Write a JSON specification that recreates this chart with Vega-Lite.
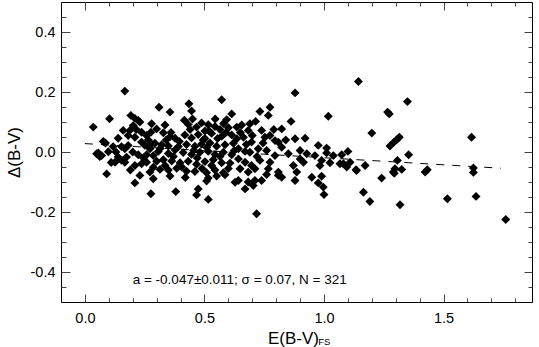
{
  "$schema": "https://vega.github.io/schema/vega-lite/v6.json",
  "width": 471,
  "height": 300,
  "autosize": "none",
  "padding": {"left": 61, "top": 2, "right": 7, "bottom": 45},
  "config": {
    "view": {"stroke": "black", "strokeWidth": 1},
    "font": "Liberation Sans",
    "axis": {
      "grid": false,
      "domain": false,
      "tickColor": "#444444",
      "tickWidth": 1,
      "labelFont": "Liberation Sans",
      "labelFontSize": 14.5,
      "labelColor": "black",
      "titleFont": "Liberation Sans",
      "titleFontSize": 17,
      "titleFontWeight": "normal",
      "titleColor": "black",
      "labelOverlap": false,
      "labelFlush": false
    }
  },
  "resolve": {"axis": {"x": "independent", "y": "independent"}},
  "layer": [
    {
      "data": {"values": [
        {"x":0.167,"y":0.203},{"x":0.103,"y":0.111},{"x":0.035,"y":0.083},{"x":0.192,"y":0.122},{"x":0.209,"y":0.112},{"x":0.223,"y":0.105},{"x":0.160,"y":0.072},{"x":0.181,"y":0.055},{"x":0.188,"y":0.072},{"x":0.139,"y":0.046},{"x":0.202,"y":0.088},{"x":0.209,"y":0.049},{"x":0.237,"y":0.066},{"x":0.258,"y":0.055},{"x":0.279,"y":0.094},{"x":0.276,"y":0.066},{"x":0.077,"y":0.035},{"x":0.086,"y":0.030},{"x":0.118,"y":0.018},{"x":0.153,"y":0.018},{"x":0.167,"y":0.011},{"x":0.181,"y":0.022},{"x":0.237,"y":0.033},{"x":0.251,"y":0.022},{"x":0.272,"y":0.011},{"x":0.279,"y":0.027},{"x":0.056,"y":-0.003},{"x":0.070,"y":-0.012},{"x":0.098,"y":0.001},{"x":0.139,"y":-0.017},{"x":0.174,"y":-0.017},{"x":0.223,"y":-0.009},{"x":0.258,"y":-0.009},{"x":0.286,"y":-0.012},{"x":0.126,"y":-0.034},{"x":0.167,"y":-0.034},{"x":0.153,"y":-0.028},{"x":0.209,"y":-0.045},{"x":0.237,"y":-0.039},{"x":0.258,"y":-0.034},{"x":0.286,"y":-0.051},{"x":0.091,"y":-0.073},{"x":0.230,"y":-0.078},{"x":0.272,"y":-0.067},{"x":0.209,"y":-0.103},{"x":0.276,"y":-0.139},{"x":0.286,"y":-0.089},{"x":0.049,"y":-0.006},{"x":0.062,"y":-0.015},
        {"x":0.310,"y":0.149},{"x":0.356,"y":0.133},{"x":0.435,"y":0.161},{"x":0.446,"y":0.137},{"x":0.572,"y":0.174},{"x":0.614,"y":0.127},{"x":0.593,"y":0.108},{"x":0.416,"y":0.106},{"x":0.432,"y":0.092},{"x":0.467,"y":0.083},{"x":0.488,"y":0.097},{"x":0.516,"y":0.091},{"x":0.502,"y":0.070},{"x":0.544,"y":0.085},{"x":0.565,"y":0.075},{"x":0.600,"y":0.081},{"x":0.300,"y":0.077},{"x":0.335,"y":0.090},{"x":0.328,"y":0.064},{"x":0.356,"y":0.051},{"x":0.377,"y":0.046},{"x":0.418,"y":0.057},{"x":0.446,"y":0.047},{"x":0.474,"y":0.058},{"x":0.502,"y":0.045},{"x":0.530,"y":0.062},{"x":0.572,"y":0.052},{"x":0.614,"y":0.057},{"x":0.293,"y":0.029},{"x":0.321,"y":0.024},{"x":0.349,"y":0.020},{"x":0.391,"y":0.018},{"x":0.425,"y":0.025},{"x":0.460,"y":0.019},{"x":0.488,"y":0.026},{"x":0.523,"y":0.030},{"x":0.551,"y":0.019},{"x":0.586,"y":0.024},{"x":0.621,"y":0.029},{"x":0.307,"y":0.002},{"x":0.349,"y":-0.005},{"x":0.377,"y":0.007},{"x":0.411,"y":-0.002},{"x":0.446,"y":-0.008},{"x":0.481,"y":-0.001},{"x":0.516,"y":0.002},{"x":0.544,"y":-0.008},{"x":0.579,"y":-0.001},{"x":0.614,"y":-0.009},{"x":0.300,"y":-0.031},{"x":0.328,"y":-0.026},{"x":0.363,"y":-0.030},{"x":0.398,"y":-0.036},{"x":0.432,"y":-0.031},{"x":0.467,"y":-0.041},{"x":0.502,"y":-0.032},{"x":0.537,"y":-0.026},{"x":0.572,"y":-0.036},{"x":0.607,"y":-0.037},{"x":0.314,"y":-0.058},{"x":0.349,"y":-0.060},{"x":0.384,"y":-0.054},{"x":0.425,"y":-0.064},{"x":0.460,"y":-0.065},{"x":0.509,"y":-0.069},{"x":0.544,"y":-0.060},{"x":0.579,"y":-0.069},{"x":0.356,"y":-0.080},{"x":0.516,"y":-0.087},{"x":0.551,"y":-0.080},{"x":0.586,"y":-0.076},{"x":0.509,"y":-0.097},{"x":0.474,"y":-0.123},{"x":0.467,"y":-0.143},{"x":0.380,"y":-0.132},{"x":0.516,"y":-0.158},{"x":0.628,"y":-0.101},
        {"x":0.879,"y":0.197},{"x":0.774,"y":0.149},{"x":0.732,"y":0.135},{"x":0.767,"y":0.122},{"x":0.862,"y":0.102},{"x":0.714,"y":0.102},{"x":0.690,"y":0.094},{"x":0.656,"y":0.090},{"x":0.635,"y":0.083},{"x":0.683,"y":0.072},{"x":0.739,"y":0.072},{"x":0.823,"y":0.077},{"x":0.774,"y":0.055},{"x":0.795,"y":0.038},{"x":0.753,"y":0.049},{"x":0.879,"y":0.044},{"x":0.921,"y":0.046},{"x":0.635,"y":0.044},{"x":0.663,"y":0.049},{"x":0.697,"y":0.033},{"x":0.725,"y":0.011},{"x":0.760,"y":0.005},{"x":0.809,"y":0.033},{"x":0.823,"y":0.016},{"x":0.851,"y":-0.006},{"x":0.900,"y":0.005},{"x":0.928,"y":-0.006},{"x":0.642,"y":0.011},{"x":0.670,"y":0.002},{"x":0.690,"y":-0.001},{"x":0.642,"y":-0.023},{"x":0.670,"y":-0.034},{"x":0.697,"y":-0.045},{"x":0.732,"y":-0.028},{"x":0.774,"y":-0.034},{"x":0.795,"y":-0.012},{"x":0.872,"y":-0.045},{"x":0.914,"y":-0.034},{"x":0.962,"y":-0.012},{"x":0.649,"y":-0.056},{"x":0.683,"y":-0.067},{"x":0.711,"y":-0.056},{"x":0.767,"y":-0.056},{"x":0.809,"y":-0.067},{"x":0.823,"y":-0.084},{"x":0.886,"y":-0.067},{"x":0.642,"y":-0.095},{"x":0.683,"y":-0.100},{"x":0.711,"y":-0.095},{"x":0.739,"y":-0.095},{"x":0.809,"y":-0.078},{"x":0.879,"y":-0.095},{"x":0.949,"y":-0.084},{"x":0.670,"y":-0.123},{"x":0.704,"y":-0.112},{"x":0.718,"y":-0.206},
        {"x":0.900,"y":-0.023},{"x":0.976,"y":-0.103},{"x":0.976,"y":0.022},{"x":1.011,"y":0.013},{"x":1.011,"y":-0.003},{"x":0.983,"y":-0.045},{"x":0.997,"y":-0.117},{"x":1.000,"y":-0.142},{"x":0.990,"y":-0.081},{"x":0.990,"y":-0.028},{"x":1.039,"y":-0.012},{"x":1.025,"y":-0.036},{"x":1.074,"y":-0.009},{"x":1.100,"y":0.002},{"x":1.067,"y":-0.039},{"x":1.095,"y":-0.050},{"x":1.109,"y":-0.034},{"x":1.136,"y":-0.062},{"x":1.172,"y":-0.045},{"x":1.165,"y":-0.134},{"x":1.192,"y":-0.165},{"x":1.241,"y":-0.087},{"x":1.290,"y":-0.067},{"x":1.018,"y":0.119},{"x":1.144,"y":0.235},{"x":1.266,"y":0.133},{"x":1.273,"y":0.127},{"x":1.200,"y":0.063},{"x":1.276,"y":0.020},{"x":1.349,"y":0.168},{"x":1.315,"y":0.049},{"x":1.304,"y":0.041},{"x":1.293,"y":0.033},{"x":1.617,"y":0.049},{"x":1.307,"y":-0.028},{"x":1.354,"y":-0.009},{"x":1.297,"y":-0.056},{"x":1.294,"y":-0.071},{"x":1.325,"y":-0.058},{"x":1.423,"y":-0.067},{"x":1.432,"y":-0.059},{"x":1.318,"y":-0.176},{"x":1.516,"y":-0.156},{"x":1.625,"y":-0.053},{"x":1.625,"y":-0.068},{"x":1.636,"y":-0.148},{"x":1.760,"y":-0.225},{"x":1.081,"y":-0.039},{"x":1.134,"y":-0.059},
        {"x":0.315,"y":0.012},{"x":0.340,"y":0.040},{"x":0.370,"y":-0.015},{"x":0.395,"y":0.035},{"x":0.405,"y":-0.050},{"x":0.440,"y":0.075},{"x":0.455,"y":0.005},{"x":0.470,"y":-0.020},{"x":0.495,"y":0.040},{"x":0.510,"y":0.015},{"x":0.530,"y":-0.045},{"x":0.555,"y":0.045},{"x":0.565,"y":-0.015},{"x":0.590,"y":0.065},{"x":0.600,"y":-0.055},{"x":0.625,"y":0.005},{"x":0.335,"y":-0.045},{"x":0.360,"y":0.065},{"x":0.420,"y":-0.085},{"x":0.450,"y":0.110},{"x":0.490,"y":-0.055},{"x":0.520,"y":0.070},{"x":0.545,"y":0.110},{"x":0.580,"y":0.095},{"x":0.200,"y":0.000},{"x":0.215,"y":0.075},{"x":0.245,"y":-0.020},{"x":0.265,"y":0.040},{"x":0.190,"y":-0.060},{"x":0.230,"y":0.100},{"x":0.130,"y":0.000},{"x":0.110,"y":-0.035},{"x":0.650,"y":0.065},{"x":0.675,"y":0.025},{"x":0.700,"y":0.055},{"x":0.720,"y":-0.015},{"x":0.745,"y":0.030},{"x":0.760,"y":-0.075},{"x":0.790,"y":0.075},{"x":0.840,"y":0.040}
      ]},
      "mark": {"type": "point", "shape": "diamond", "filled": true, "color": "black", "opacity": 1, "size": 80},
      "encoding": {
        "x": {
          "field": "x", "type": "quantitative",
          "scale": {"domain": [-0.1, 1.87], "nice": false, "zero": false},
          "axis": {
            "orient": "bottom",
            "offset": -8,
            "tickSize": 8,
            "labelPadding": 9,
            "title": "E(B-V)",
            "titleX": 232,
            "titleY": 49,
            "titleBaseline": "alphabetic",
            "values": [0, 0.5, 1, 1.5],
            "format": ".1f"
          }
        },
        "y": {
          "field": "y", "type": "quantitative",
          "scale": {"domain": [-0.5, 0.5], "nice": false, "zero": false},
          "axis": {
            "orient": "left",
            "offset": -9,
            "tickSize": 9,
            "labelPadding": 6,
            "title": "Δ(B-V)",
            "titleX": -51,
            "titleY": 150,
            "titleBaseline": "alphabetic",
            "values": [-0.4, -0.2, 0, 0.2, 0.4],
            "labelExpr": "datum.value < -0.001 ? '-' + format(-datum.value, '.1f') : format(abs(datum.value), '.1f')"
          }
        }
      }
    },
    {
      "data": {"values": [{"x": 0, "y": 0.028}, {"x": 1.74, "y": -0.054}]},
      "mark": {"type": "line", "color": "black", "strokeWidth": 1, "strokeDash": [8, 8]},
      "encoding": {
        "x": {
          "field": "x", "type": "quantitative",
          "axis": {"orient": "top", "offset": -8, "tickSize": 8, "title": null, "labels": false, "values": [0, 0.5, 1, 1.5]}
        },
        "y": {
          "field": "y", "type": "quantitative",
          "axis": {"orient": "right", "offset": -8, "tickSize": 8, "title": null, "labels": false, "values": [-0.4, -0.2, 0, 0.2, 0.4]}
        }
      }
    },
    {
      "data": {"values": [{"x": 0.2, "y": -0.44, "label": "a = -0.047±0.011; σ = 0.07, N =  321"}]},
      "mark": {"type": "text", "align": "left", "baseline": "alphabetic", "font": "Liberation Sans", "fontSize": 13.5, "color": "black"},
      "encoding": {
        "x": {
          "field": "x", "type": "quantitative",
          "axis": {"orient": "bottom", "offset": -4, "tickSize": 4, "title": null, "labels": false,
                   "values": [0.1,0.2,0.3,0.4,0.6,0.7,0.8,0.9,1.1,1.2,1.3,1.4,1.6,1.7,1.8]}
        },
        "y": {
          "field": "y", "type": "quantitative",
          "axis": {"orient": "left", "offset": -5, "tickSize": 5, "title": null, "labels": false,
                   "values": [-0.45,-0.35,-0.3,-0.25,-0.15,-0.1,-0.05,0.05,0.1,0.15,0.25,0.3,0.35,0.45]}
        },
        "text": {"field": "label"}
      }
    },
    {
      "data": {"values": [{"x": 0.976, "y": -0.642, "label": "FS"}]},
      "mark": {"type": "text", "align": "left", "baseline": "alphabetic", "font": "Liberation Sans", "fontSize": 9.5, "color": "black"},
      "encoding": {
        "x": {
          "field": "x", "type": "quantitative",
          "axis": {"orient": "top", "offset": -4, "tickSize": 4, "title": null, "labels": false,
                   "values": [0.1,0.2,0.3,0.4,0.6,0.7,0.8,0.9,1.1,1.2,1.3,1.4,1.6,1.7,1.8]}
        },
        "y": {
          "field": "y", "type": "quantitative",
          "axis": {"orient": "right", "offset": -4, "tickSize": 4, "title": null, "labels": false,
                   "values": [-0.45,-0.35,-0.3,-0.25,-0.15,-0.1,-0.05,0.05,0.1,0.15,0.25,0.3,0.35,0.45]}
        },
        "text": {"field": "label"}
      }
    }
  ]
}
